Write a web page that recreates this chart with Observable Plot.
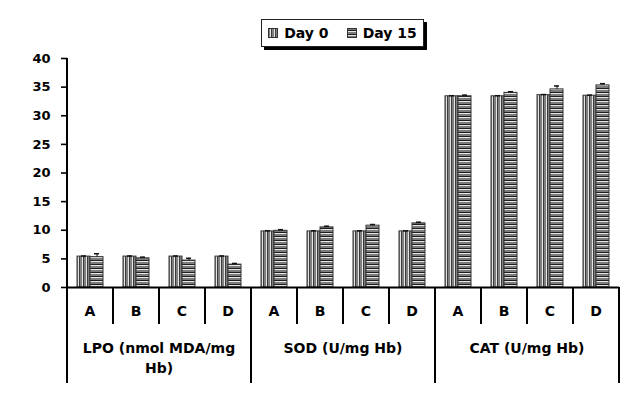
<!DOCTYPE html>
<html>
<head>
<meta charset="utf-8">
<script src="https://cdn.jsdelivr.net/npm/d3@7"></script>
<script src="https://cdn.jsdelivr.net/npm/@observablehq/plot@0.6"></script>
<style>
  html, body { margin: 0; padding: 0; background: #fff; }
  body { width: 628px; height: 394px; overflow: hidden; font-family: "DejaVu Sans", sans-serif; font-weight: bold; }
  #legend { height: 50px; box-sizing: border-box; padding: 19px 6px 0 63px; display: flex; justify-content: center; align-items: flex-start; }
  #legend .box { display: flex; align-items: center; gap: 6px; border: 1px solid #222; box-shadow: 3px 3px 0 #000; padding: 4px 6px; font-size: 14px; line-height: 18px; color: #000; background: #fff; }
  #legend .sw { width: 10px; height: 10px; display: block; }
  #legend .gap { width: 6px; }
</style>
</head>
<body>
<svg width="0" height="0" style="position:absolute">
  <defs>
    <pattern id="vstripe" patternUnits="userSpaceOnUse" width="4" height="4">
      <rect width="4" height="4" fill="#808080"></rect>
      <rect x="2" width="1" height="4" fill="#e6e6e6"></rect>
      <rect x="3" width="1" height="4" fill="#3a3a3a"></rect>
    </pattern>
    <pattern id="hstripe" patternUnits="userSpaceOnUse" width="4" height="4">
      <rect width="4" height="4" fill="#7c7c7c"></rect>
      <rect y="2" width="4" height="1" fill="#1e1e1e"></rect>
      <rect y="3" width="4" height="1" fill="#e6e6e6"></rect>
    </pattern>
  </defs>
</svg>
<div id="legend"></div>
<div id="chart"></div>
<script>
// Enzyme / oxidative-stress markers per treatment group, Day 0 vs Day 15
const groups = ["LPO", "SOD", "CAT"];
const groupLabels = [["LPO (nmol MDA/mg", "Hb)"], ["SOD (U/mg Hb)"], ["CAT (U/mg Hb)"]];
const letters = ["A", "B", "C", "D"];
const days = ["Day 0", "Day 15"];

const day0Values = [
  [5.4, 5.4, 5.4, 5.4],
  [9.8, 9.8, 9.8, 9.8],
  [33.4, 33.4, 33.6, 33.5]
];
const day15Values = [
  [5.3, 5.1, 4.7, 4.0],
  [9.9, 10.5, 10.8, 11.2],
  [33.4, 34.0, 34.6, 35.3]
];
const day0Errors = [
  [0.1, 0.1, 0.1, 0.1],
  [0.1, 0.1, 0.1, 0.1],
  [0.1, 0.1, 0.1, 0.1]
];
const day15Errors = [
  [0.6, 0.2, 0.4, 0.2],
  [0.2, 0.2, 0.2, 0.2],
  [0.2, 0.2, 0.6, 0.3]
];
const yTicks = [0, 5, 10, 15, 20, 25, 30, 35, 40];

const fills = {"Day 0": "url(#vstripe)", "Day 15": "url(#hstripe)"};

// flat table built from the arrays above
const keys = [];
const rows = [];
groups.forEach((g, gi) => {
  letters.forEach((l, li) => {
    const key = g + "|" + l;
    keys.push(key);
    rows.push({key, group: g, letter: l, day: "Day 0", value: day0Values[gi][li], err: day0Errors[gi][li]});
    rows.push({key, group: g, letter: l, day: "Day 15", value: day15Values[gi][li], err: day15Errors[gi][li]});
  });
});

// legend
const legend = d3.select("#legend").append("div").attr("class", "box");
days.forEach((d, i) => {
  if (i > 0) legend.append("span").attr("class", "gap");
  legend.append("svg").attr("class", "sw").attr("width", 10).attr("height", 10)
    .append("rect").attr("x", 0.5).attr("y", 0.5).attr("width", 9).attr("height", 9)
    .attr("fill", fills[d]).attr("stroke", "#333");
  legend.append("span").text(d);
});

const chart = Plot.plot({
  width: 628,
  height: 344,
  marginTop: 8,
  marginBottom: 107,
  marginLeft: 63,
  marginRight: 6,
  style: {fontFamily: "DejaVu Sans", fontWeight: "bold", fontSize: "13px", color: "#000", background: "#fff"},
  fx: {domain: keys, padding: 0, axis: null},
  x: {domain: days, paddingInner: 0, paddingOuter: 0.67, axis: null},
  y: {domain: [0, 40], ticks: yTicks, tickSize: 6, tickPadding: 11, label: null, tickFormat: d => String(d)},
  marks: [
    Plot.barY(rows, {fx: "key", x: "day", y: "value", fill: d => fills[d.day], stroke: "#333", strokeWidth: 1}),
    Plot.ruleX(rows, {fx: "key", x: "day", y1: d => d.value, y2: d => d.value + d.err, stroke: "#111", strokeWidth: 1}),
    Plot.tickY(rows, {fx: "key", x: "day", y: d => d.value + d.err, stroke: "#111", strokeWidth: 1.5, insetLeft: 4, insetRight: 4}),
    Plot.ruleY([0], {stroke: "#000", strokeWidth: 2})
  ]
});
d3.select(chart).selectAll("g[aria-label^='y-axis tick'] path").attr("stroke-width", 1.6);
document.getElementById("chart").appendChild(chart);

// y axis line and two-level category axis, drawn from the plot's fx and y scales
const fx = chart.scale("fx");
const y = chart.scale("y");
const y0 = y.apply(0);
const svg = d3.select(chart);
const axis = svg.append("g").attr("stroke", "#000").attr("fill", "#000");

const axisX = fx.apply(keys[0]);
axis.append("line")
  .attr("x1", axisX).attr("x2", axisX)
  .attr("y1", y.apply(yTicks[yTicks.length - 1])).attr("y2", y0)
  .attr("stroke-width", 2);

keys.forEach((k, i) => {
  const left = fx.apply(k);
  const isGroupStart = i % letters.length === 0;
  axis.append("line")
    .attr("x1", left).attr("x2", left)
    .attr("y1", y0).attr("y2", y0 + (isGroupStart ? 96 : 37))
    .attr("stroke-width", 2);
  axis.append("text")
    .attr("x", left + fx.bandwidth / 2).attr("y", y0 + 29)
    .attr("text-anchor", "middle").attr("stroke", "none")
    .attr("font-size", 14).attr("font-weight", "bold")
    .text(rows[i * 2].letter);
});
const lastRight = fx.apply(keys[keys.length - 1]) + fx.bandwidth;
axis.append("line")
  .attr("x1", lastRight).attr("x2", lastRight)
  .attr("y1", y0).attr("y2", y0 + 96)
  .attr("stroke-width", 2);

groups.forEach((g, gi) => {
  const a = fx.apply(g + "|" + letters[0]);
  const b = fx.apply(g + "|" + letters[letters.length - 1]) + fx.bandwidth;
  groupLabels[gi].forEach((line, li) => {
    axis.append("text")
      .attr("x", (a + b) / 2).attr("y", y0 + 66 + li * 20)
      .attr("text-anchor", "middle").attr("stroke", "none")
      .attr("font-size", 14).attr("font-weight", "bold")
      .text(line);
  });
});
</script>
</body>
</html>
